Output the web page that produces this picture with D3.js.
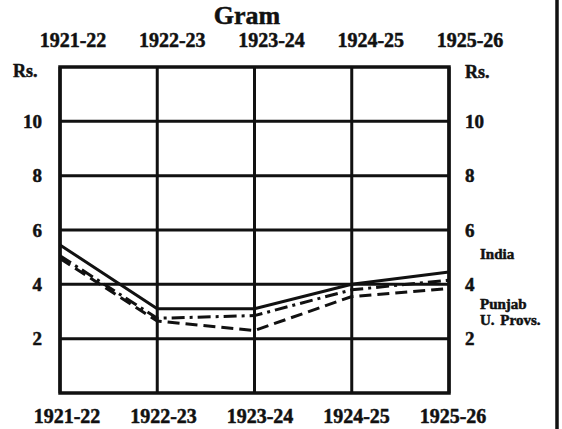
<!DOCTYPE html>
<html>
<head>
<meta charset="utf-8">
<script src="https://cdn.jsdelivr.net/npm/d3@7/dist/d3.min.js"></script>
<style>
  body { margin: 0; background: #fff; }
  svg text {
    font-family: "Liberation Serif", "Times New Roman", serif;
    font-weight: bold;
    fill: #111;
    stroke: #111;
    stroke-width: 0.5px;
  }
</style>
</head>
<body>
<svg id="chart" width="562" height="429"></svg>
<script>
// data (Rs. per maund)
const years = ['1921-22', '1922-23', '1923-24', '1924-25', '1925-26']
const india = [5.45, 3.1, 3.1, 4.0, 4.45]
const punjab = [5.05, 2.75, 2.85, 3.8, 4.15]
const u_provs = [4.95, 2.65, 2.3, 3.55, 3.85]
const y_ticks = [2, 4, 6, 8, 10]

const series = [
  { name: 'india', values: india, dash: null },
  { name: 'punjab', values: punjab, dash: '13,5,3,5' },
  { name: 'u_provs', values: u_provs, dash: '12,6' }
]

const svg = d3.select('#chart')
const ink = '#111'

// scales
let x = d3.scalePoint().domain(years).range([60, 449])
let x_top = d3.scalePoint().domain(years).range([73, 470])
let x_bottom = d3.scalePoint().domain(years).range([67, 453])
let y = d3.scaleLinear().domain([0, 12]).range([393, 67])

// Title
svg.append('text')
  .attr('x', 247)
  .attr('y', 24)
  .attr('text-anchor', 'middle')
  .style('font-size', '26px')
  .text('Gram')

// Grid
let grid = svg.append('g').attr('id', 'grid')
grid.selectAll('.h-line')
  .data(y_ticks)
  .join('line')
  .attr('class', 'h-line')
  .attr('x1', x.range()[0])
  .attr('x2', x.range()[1])
  .attr('y1', d => y(d))
  .attr('y2', d => y(d))
  .style('stroke', ink)
  .style('stroke-width', 3)

grid.selectAll('.v-line')
  .data(years)
  .join('line')
  .attr('class', 'v-line')
  .attr('x1', d => x(d))
  .attr('x2', d => x(d))
  .attr('y1', y(12))
  .attr('y2', y(0))
  .style('stroke', ink)
  .style('stroke-width', 3)

// frame
grid.append('rect')
  .attr('x', x.range()[0])
  .attr('y', y(12))
  .attr('width', x.range()[1] - x.range()[0])
  .attr('height', y(0) - y(12))
  .style('fill', 'none')
  .style('stroke', ink)
  .style('stroke-width', 3.5)

// Year labels, top and bottom
svg.selectAll('.top-label')
  .data(years)
  .join('text')
  .attr('class', 'top-label')
  .attr('x', d => x_top(d))
  .attr('y', 47)
  .attr('text-anchor', 'middle')
  .style('font-size', '20px')
  .text(d => d)

svg.selectAll('.bottom-label')
  .data(years)
  .join('text')
  .attr('class', 'bottom-label')
  .attr('x', d => x_bottom(d))
  .attr('y', 423)
  .attr('text-anchor', 'middle')
  .style('font-size', '20px')
  .text(d => d)

// Value axes, left and right
let left_axis = svg.append('g')
  .attr('transform', `translate(${x.range()[0]}, 0)`)
  .call(d3.axisLeft(y).tickValues(y_ticks).tickSize(0).tickPadding(18))
let right_axis = svg.append('g')
  .attr('transform', `translate(${x.range()[1]}, 0)`)
  .call(d3.axisRight(y).tickValues(y_ticks).tickSize(0).tickPadding(16))
for (let ax of [left_axis, right_axis]) {
  ax.select('.domain').remove()
  ax.selectAll('text')
    .attr('font-family', null)
    .attr('font-size', null)
    .style('font-size', '19px')
}

svg.append('text')
  .attr('x', 13)
  .attr('y', 77)
  .style('font-size', '18px')
  .text('Rs.')
svg.append('text')
  .attr('x', 465)
  .attr('y', 78)
  .style('font-size', '18px')
  .text('Rs.')

// Price lines
let line = d3.line()
  .x((d, i) => x(years[i]))
  .y(d => y(d))

svg.append('g')
  .selectAll('path')
  .data(series)
  .join('path')
  .attr('d', d => line(d.values))
  .style('fill', 'none')
  .style('stroke', ink)
  .style('stroke-width', 3)
  .style('stroke-dasharray', d => d.dash)

// Line names at the right
let names = [
  { text: 'India', y: 259 },
  { text: 'Punjab', y: 309 },
  { text: 'U. Provs.', y: 325 }
]
svg.selectAll('.name-label')
  .data(names)
  .join('text')
  .attr('class', 'name-label')
  .attr('x', 480)
  .attr('y', d => d.y)
  .style('font-size', '15px')
  .style('word-spacing', '2px')
  .text(d => d.text)

// page edge rule on the right
svg.append('line')
  .attr('x1', 557)
  .attr('x2', 557)
  .attr('y1', 0)
  .attr('y2', 429)
  .style('stroke', ink)
  .style('stroke-width', 3.5)
</script>
</body>
</html>
